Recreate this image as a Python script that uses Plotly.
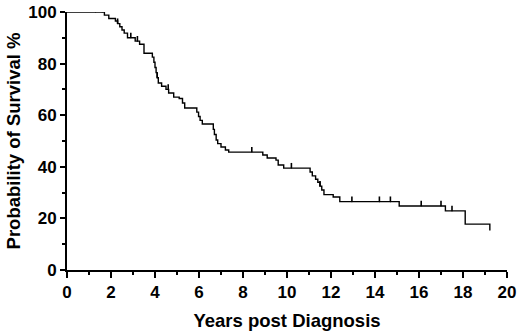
import plotly.graph_objects as go

# Kaplan-Meier step data: time (years) and survival (%) after each event
times = [0, 1.7, 1.9, 2.2, 2.3, 2.4, 2.5, 2.6, 2.75, 3.1, 3.3, 3.5, 3.88, 3.95, 4.0, 4.05,
         4.1, 4.15, 4.3, 4.5, 4.62, 4.85, 5.1, 5.25, 5.35, 5.9, 5.98, 6.05, 6.15, 6.65,
         6.7, 6.78, 6.85, 7.0, 7.2, 7.35, 8.9, 9.1, 9.5, 9.6, 9.85, 11.05, 11.15, 11.3,
         11.4, 11.5, 11.58, 11.68, 12.1, 12.4, 15.1, 17.2, 18.1, 19.22]
survival = [100, 98.8, 97.5, 96.5, 95.5, 94.3, 93.0, 91.8, 90.0, 88.7, 87.5, 84.0, 82.5,
            80.5, 78.5, 76.5, 74.5, 72.5, 71.2, 70.0, 68.6, 67.0, 66.5, 64.7, 62.8, 61.2,
            59.5, 58.0, 56.6, 54.5, 52.5, 50.4, 49.0, 47.7, 46.5, 45.7, 44.6, 43.4, 42.6,
            40.7, 39.5, 38.0, 36.5, 35.2, 34.0, 32.5, 31.0, 29.2, 28.3, 26.5, 24.8, 22.9,
            17.8, 15.3]

# censored observations
cens_times = [1.3, 1.6, 2.3, 2.9, 3.2, 4.1, 4.6, 8.4, 10.2, 11.5, 12.95, 14.2, 14.7, 16.1, 17.0, 17.5]
cens_surv = [100, 100, 95.5, 90.0, 88.7, 74.5, 70.0, 45.7, 39.5, 32.5, 26.5, 26.5, 26.5, 24.8, 24.8, 22.9]

x_ticks = list(range(0, 21, 2))
y_ticks = list(range(0, 101, 20))

font = "Arial, Liberation Sans, sans-serif"

fig = go.Figure()
fig.add_trace(go.Scatter(x=times, y=survival, mode="lines", line_shape="hv",
                         line=dict(color="black", width=1.4), showlegend=False))
fig.add_trace(go.Scatter(x=cens_times, y=cens_surv, mode="markers",
                         marker=dict(size=1, color="black"),
                         error_y=dict(type="constant", value=2, symmetric=False,
                                      valueminus=0, width=0, thickness=1.6, color="black"),
                         showlegend=False))

fig.update_layout(
    width=520, height=333,
    margin=dict(l=67, r=13, t=12, b=63, autoexpand=False),
    paper_bgcolor="white", plot_bgcolor="white",
    font=dict(family=font, color="black"),
    xaxis=dict(range=[0, 20], tickvals=x_ticks, ticktext=[str(v) for v in x_ticks],
               automargin=False,
               showgrid=False, zeroline=False, showline=True, linecolor="black", linewidth=2,
               ticks="outside", ticklen=6, tickwidth=2, tickcolor="black",
               minor=dict(dtick=1, ticks="outside", ticklen=3, tickwidth=1.5, tickcolor="black"),
               tickfont=dict(size=17, family=font, weight="bold"),
               title=dict(text="<b>Years post Diagnosis</b>", font=dict(size=18.5, family=font),
                          standoff=13)),
    yaxis=dict(range=[0, 100], tickvals=y_ticks, ticktext=[str(v) for v in y_ticks],
               automargin=False,
               showgrid=False, zeroline=False, showline=True, linecolor="black", linewidth=2,
               ticks="outside", ticklen=5, tickwidth=2, tickcolor="black",
               minor=dict(dtick=10, ticks="outside", ticklen=3, tickwidth=1.5, tickcolor="black"),
               tickfont=dict(size=17, family=font, weight="bold"),
               title=dict(text="<b>Probability of Survival %</b>", font=dict(size=18.5, family=font),
                          standoff=3)),
)
fig.write_html("out.html", config={"displayModeBar": False},
               post_script="document.body.style.margin='0';")
